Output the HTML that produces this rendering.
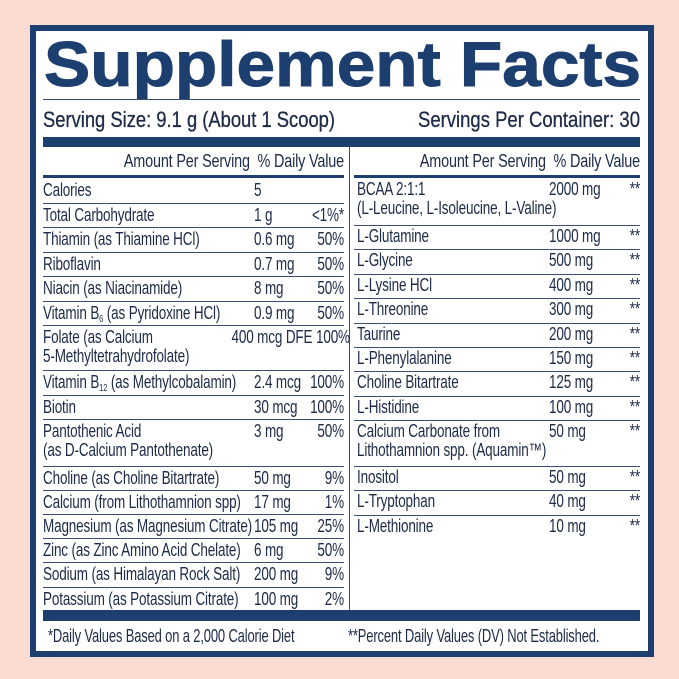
<!DOCTYPE html>
<html><head><meta charset="utf-8"><style>
body{margin:0;width:679px;height:679px;background:#fbdcd3;position:relative;overflow:hidden;font-family:"Liberation Sans Narrow","Liberation Sans",sans-serif;color:#1d2a48}
#box{position:absolute;left:30px;top:25px;width:612px;height:620px;border:6px solid #1d3f70;background:#fff}
.a{position:absolute;white-space:nowrap}
.t{font-size:18px;letter-spacing:-0.2px;line-height:19px;transform:scaleX(0.75);transform-origin:left top}
.t.r{transform-origin:right top}
.ln{position:absolute;height:1px;background:#3a4f72}
.r{text-align:right}
sub{font-size:10px;vertical-align:-3px;line-height:0}
</style></head><body>
<div id="box"></div>
<svg class="a" style="left:0;top:0" width="679" height="100">
<text x="44" y="86" textLength="597" lengthAdjust="spacingAndGlyphs" font-family="Liberation Sans" font-weight="bold" font-size="63" fill="#1d3f70" stroke="#1d3f70" stroke-width="1">Supplement Facts</text>
</svg>
<div class="ln" style="left:43px;top:99px;width:597px;height:1px"></div>
<svg class="a" style="left:0;top:100px" width="679" height="36">
<text x="43" y="27" textLength="292" lengthAdjust="spacingAndGlyphs" font-family="Liberation Sans" font-size="22" fill="#1d2a48" stroke="#1d2a48" stroke-width="0.3">Serving Size: 9.1 g (About 1 Scoop)</text>
<text x="418" y="27" textLength="222" lengthAdjust="spacingAndGlyphs" font-family="Liberation Sans" font-size="22" fill="#1d2a48" stroke="#1d2a48" stroke-width="0.3">Servings Per Container: 30</text>
</svg>
<div class="a" style="left:43px;top:137px;width:597px;height:10px;background:#1d3f70"></div>
<div class="a" style="left:349px;top:147px;width:1px;height:463px;background:#3a4f72"></div>
<div class="a t r" style="left:43px;top:152px;width:301px;transform:scaleX(0.8)">Amount Per Serving &nbsp;% Daily Value</div>
<div class="a t r" style="left:356px;top:152px;width:284px;transform:scaleX(0.8)">Amount Per Serving &nbsp;% Daily Value</div>
<div class="a" style="left:43px;top:175px;width:301px;height:3px;background:#1d3f70"></div>
<div class="a" style="left:354px;top:175px;width:286px;height:3px;background:#1d3f70"></div>
<div id="L"></div>
<div class="a" style="left:43px;top:610px;width:597px;height:11px;background:#1d3f70"></div>
<div class="a t" style="left:48px;top:627px;transform:scaleX(0.72)">*Daily Values Based on a 2,000 Calorie Diet</div>
<div class="a t" style="left:348px;top:627px;transform:scaleX(0.72)">**Percent Daily Values (DV) Not Established.</div>
<script>
var L=[["Calories","5","",24.5],["Total Carbohydrate","1 g","&lt;1%*",24.5],["Thiamin (as Thiamine HCl)","0.6 mg","50%",24.5],["Riboflavin","0.7 mg","50%",24.5],["Niacin (as Niacinamide)","8 mg","50%",24.5],["Vitamin B<sub>6</sub> (as Pyridoxine HCl)","0.9 mg","50%",24.5],["Folate (as Calcium<br>5-Methyltetrahydrofolate)","","400 mcg DFE 100%",45],["Vitamin B<sub>12</sub> (as Methylcobalamin)","2.4 mcg","100%",24.5],["Biotin","30 mcg","100%",24.5],["Pantothenic Acid<br>(as D-Calcium Pantothenate)","3 mg","50%",46.5],["Choline (as Choline Bitartrate)","50 mg","9%",24.2],["Calcium (from Lithothamnion spp)","17 mg","1%",24.2],["Magnesium (as Magnesium Citrate)","105 mg","25%",24.2],["Zinc (as Zinc Amino Acid Chelate)","6 mg","50%",24.2],["Sodium (as Himalayan Rock Salt)","200 mg","9%",24.2],["Potassium (as Potassium Citrate)","100 mg","2%",24]];
var R=[["BCAA 2:1:1<br>(L-Leucine, L-Isoleucine, L-Valine)","2000 mg",47],["L-Glutamine","1000 mg",24.4],["L-Glycine","500 mg",24.4],["L-Lysine HCl","400 mg",24.4],["L-Threonine","300 mg",24.4],["Taurine","200 mg",24.4],["L-Phenylalanine","150 mg",24.4],["Choline Bitartrate","125 mg",24.4],["L-Histidine","100 mg",24.4],["Calcium Carbonate from<br>Lithothamnion spp. (Aquamin™)","50 mg",46],["Inositol","50 mg",24.2],["L-Tryptophan","40 mg",24.2],["L-Methionine","10 mg",24.2]];
var h="",y=178;
L.forEach(function(r,i){h+='<div class="a t" style="left:43px;top:'+(y+3)+'px">'+r[0]+'</div><div class="a t" style="left:254px;top:'+(y+3)+'px">'+r[1]+'</div><div class="a t r" style="left:194px;width:150px;top:'+(y+3)+'px">'+r[2]+'</div>';y+=r[3];if(i<L.length-1)h+='<div class="ln" style="left:43px;width:301px;top:'+Math.round(y)+'px"></div>';});
y=178;
R.forEach(function(r,i){h+='<div class="a t" style="left:357px;top:'+(y+2)+'px">'+r[0]+'</div><div class="a t" style="left:549px;top:'+(y+2)+'px">'+r[1]+'</div><div class="a t r" style="left:600px;width:40px;top:'+(y+2)+'px">**</div>';y+=r[2];if(i<R.length-1)h+='<div class="ln" style="left:354px;width:286px;top:'+Math.round(y)+'px"></div>';});
document.getElementById("L").innerHTML=h;
</script>
</body></html>
